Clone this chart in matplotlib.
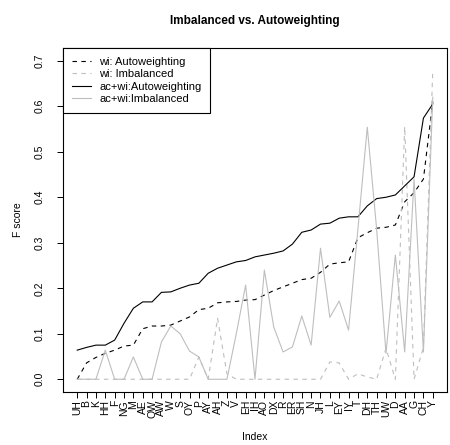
import numpy as np
import matplotlib.pyplot as plt

plt.rcParams['font.family'] = ['Liberation Sans', 'DejaVu Sans']

phones = ['UH', 'B', 'K', 'HH', 'F', 'NG', 'M', 'AE', 'OW', 'AW', 'W', 'S', 'OY',
          'P', 'AY', 'AH', 'Z', 'V', 'EH', 'IH', 'AO', 'DX', 'R', 'ER', 'SH', 'N',
          'JH', 'L', 'EY', 'IY', 'T', 'DH', 'TH', 'UW', 'D', 'AA', 'G', 'CH', 'Y']

# F scores per phone, sorted by the ac+wi autoweighted model
wi_auto = [0.0, 0.036, 0.048, 0.057, 0.064, 0.073, 0.075, 0.111, 0.117, 0.117,
           0.119, 0.128, 0.137, 0.153, 0.156, 0.168, 0.170, 0.171, 0.174, 0.175,
           0.185, 0.195, 0.203, 0.211, 0.219, 0.222, 0.235, 0.253, 0.256, 0.258,
           0.311, 0.322, 0.332, 0.334, 0.339, 0.390, 0.410, 0.440, 0.610]
wi_imb = [0.0, 0.0, 0.0, 0.0, 0.0, 0.0, 0.0, 0.0, 0.0, 0.0,
          0.0, 0.0, 0.0, 0.049, 0.0, 0.134, 0.012, 0.0, 0.0, 0.0,
          0.0, 0.0, 0.0, 0.0, 0.0, 0.0, 0.0, 0.038, 0.036, 0.0,
          0.012, 0.005, 0.0, 0.068, 0.0, 0.555, 0.0, 0.070, 0.680]
acwi_auto = [0.064, 0.070, 0.075, 0.075, 0.086, 0.123, 0.156, 0.170, 0.170, 0.191,
             0.192, 0.200, 0.207, 0.211, 0.233, 0.244, 0.251, 0.258, 0.261, 0.269,
             0.273, 0.277, 0.282, 0.297, 0.323, 0.328, 0.341, 0.343, 0.354, 0.357,
             0.357, 0.381, 0.397, 0.400, 0.405, 0.425, 0.445, 0.574, 0.605]
acwi_imb = [0.0, 0.0, 0.0, 0.064, 0.0, 0.0, 0.049, 0.0, 0.0, 0.082,
            0.117, 0.100, 0.062, 0.049, 0.0, 0.0, 0.0, 0.100, 0.207, 0.0,
            0.240, 0.115, 0.060, 0.071, 0.139, 0.075, 0.288, 0.136, 0.172, 0.108,
            0.330, 0.554, 0.330, 0.057, 0.273, 0.060, 0.440, 0.060, 0.620]

idx = np.arange(1, len(phones) + 1)
grey = '#bebebe'
lw = 0.8

fig = plt.figure(figsize=(4.5, 4.45), dpi=100)
ax = fig.add_axes([63 / 450, 53 / 445, 384 / 450, 344 / 445])

ax.plot(idx, wi_auto, color='black', lw=lw, dashes=(4, 4), label='wi: Autoweighting')
ax.plot(idx, wi_imb, color=grey, lw=lw, dashes=(4, 4), label='wi: Imbalanced')
ax.plot(idx, acwi_auto, color='black', lw=lw, label='ac+wi:Autoweighting')
ax.plot(idx, acwi_imb, color=grey, lw=lw, label='ac+wi:Imbalanced')

# R-style 4% padding around the data range
n = len(phones)
ax.set_xlim(1 - 0.04 * (n - 1), n + 0.04 * (n - 1))
ytop = 0.70
ax.set_ylim(-0.04 * ytop, ytop * 1.04)

ax.set_xticks(idx)
ax.set_xticklabels(phones, rotation=90, fontsize=7.5)
ax.set_yticks(np.arange(0, 0.71, 0.1))
ax.set_yticklabels(['%.1f' % v for v in np.arange(0, 0.71, 0.1)],
                   rotation=90, va='center', fontsize=7.5)
ax.tick_params(axis='x', direction='out', length=4.5, width=0.7, pad=1.3)
ax.tick_params(axis='y', direction='out', length=4.5, width=0.7, pad=8.5)
for s in ax.spines.values():
    s.set_linewidth(0.8)

ax.set_xlabel('Index', fontsize=7.5, labelpad=10)
ax.set_ylabel('F score', fontsize=7.5, labelpad=8.5)
ax.set_title('Imbalanced vs. Autoweighting', fontsize=8.5, fontweight='bold', pad=17)

leg = ax.legend(loc='upper left', fontsize=8, frameon=True, fancybox=False,
                edgecolor='black', framealpha=1, borderaxespad=0,
                handlelength=1.75, labelspacing=0.22, borderpad=0.8, handletextpad=0.7)
leg.get_frame().set_linewidth(0.8)

fig.savefig('out.png', dpi=100)
